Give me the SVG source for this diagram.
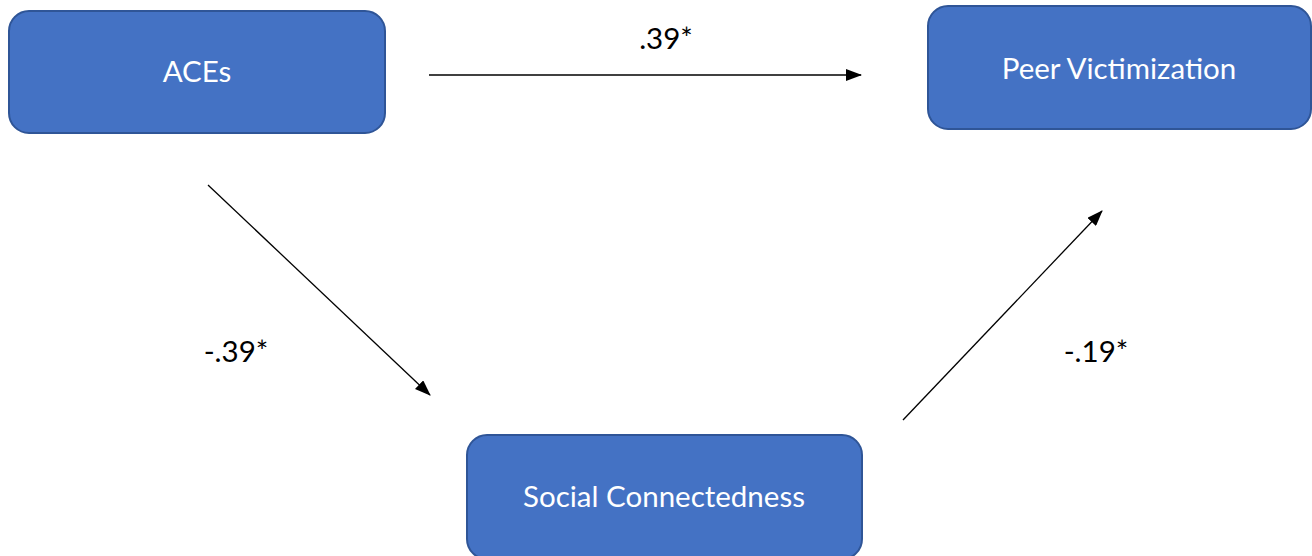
<svg xmlns="http://www.w3.org/2000/svg" width="1312" height="556" viewBox="0 0 1312 556">
<defs>
<style>
.box{fill:#4472C4;stroke:#2F5597;stroke-width:2}
.lbl{font-family:Lato,"Open Sans",sans-serif;font-size:29.5px;fill:#ffffff;text-anchor:middle}
.coef{font-family:Lato,"Open Sans",sans-serif;font-size:29.5px;fill:#000000;text-anchor:middle}
.conn{stroke:#000;stroke-width:1.3;fill:none;marker-end:url(#ah)}
</style>
<marker id="ah" markerUnits="userSpaceOnUse" markerWidth="16" markerHeight="12" refX="15" refY="6" orient="auto">
<path d="M0,0 L16,6 L0,12 Z" fill="#000"/>
</marker>
</defs>
<rect width="1312" height="556" fill="#fff"/>
<g id="aces">
<rect class="box" x="9" y="11" width="376" height="122" rx="20"/>
<text class="lbl" x="197" y="82">ACEs</text>
</g>
<g id="peer">
<rect class="box" x="928" y="6" width="383" height="123" rx="20"/>
<text class="lbl" x="1119" y="79">Peer Victimization</text>
</g>
<g id="social">
<rect class="box" x="467" y="435" width="395" height="124" rx="20"/>
<text class="lbl" x="664" y="507">Social Connectedness</text>
</g>
<g id="connectors">
<line class="conn" x1="429" y1="75" x2="861" y2="75"/>
<line class="conn" x1="208" y1="185" x2="430" y2="395"/>
<line class="conn" x1="903" y1="420" x2="1102" y2="211"/>
</g>
<g id="labels">
<text class="coef" x="666" y="49">.39*</text>
<text class="coef" x="236" y="362">-.39*</text>
<text class="coef" x="1096" y="362">-.19*</text>
</g>
</svg>
